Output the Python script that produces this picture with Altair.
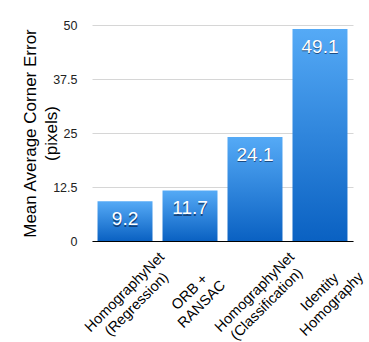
import altair as alt
import pandas as pd

methods = ["HomographyNet|(Regression)", "ORB +|RANSAC",
           "HomographyNet|(Classification)", "Identity|Homography"]
values = [9.2, 11.7, 24.1, 49.1]
y_ticks = [0, 12.5, 25, 37.5, 50]
y_title = ["Mean Average Corner Error", "(pixels)"]

df = pd.DataFrame({"method": methods, "value": values})
FONT = "Liberation Sans"

x_enc = alt.X(
    "method:N", sort=methods,
    scale=alt.Scale(paddingInner=0.154, paddingOuter=0.085),
    axis=alt.Axis(title=None, labelExpr="split(datum.label, '|')",
                  labelAngle=315, labelAlign="center", labelBaseline="middle",
                  labelPadding=51, ticks=False, domain=True, domainColor="black",
                  domainWidth=1, labelFontSize=14.5, labelLineHeight=17,
                  labelFont=FONT, labelColor="black", labelOverlap=False,
                  labelBound=False, labelFlush=False),
)
y_enc = alt.Y(
    "value:Q",
    scale=alt.Scale(domain=[0, 50], nice=False),
    axis=alt.Axis(values=y_ticks, format=".1~f", grid=True, gridColor="#d6d6d6",
                  gridWidth=1, domain=False, ticks=False, labelPadding=15,
                  labelFontSize=12.5, labelFont=FONT, labelColor="#222222",
                  title=y_title, titleFont=FONT, titleFontSize=17,
                  titleFontWeight="normal", titleColor="black", titleLimit=400,
                  titleX=-62, titleY=108, titleAngle=270, titleAlign="center",
                  titleBaseline="middle", titleLineHeight=21),
)

grad = alt.Gradient(
    gradient="linear",
    stops=[alt.GradientStop(color="#55aaf6", offset=0),
           alt.GradientStop(color="#0a61c2", offset=1)],
    x1=0, x2=0, y1=0, y2=1,
)

base = alt.Chart(df).encode(x=x_enc, y=y_enc)
bars = base.mark_bar(color=grad)
shadow = base.mark_text(baseline="alphabetic", dy=25.5, dx=0.3, fontSize=19,
                        font=FONT, color="#0b2a55", opacity=0.7).encode(
    text=alt.Text("value:Q", format=".1f"))
labels = base.mark_text(baseline="alphabetic", dy=24, fontSize=19,
                        font=FONT, color="white").encode(
    text=alt.Text("value:Q", format=".1f"))

chart = (bars + shadow + labels).properties(
    width=261, height=216,
    autosize=alt.AutoSizeParams(type="none"),
    padding={"left": 92, "top": 25, "right": 16, "bottom": 101},
    background="white",
).configure_view(stroke=None)

chart.save("out.html", embed_options={"renderer": "svg", "actions": False})
